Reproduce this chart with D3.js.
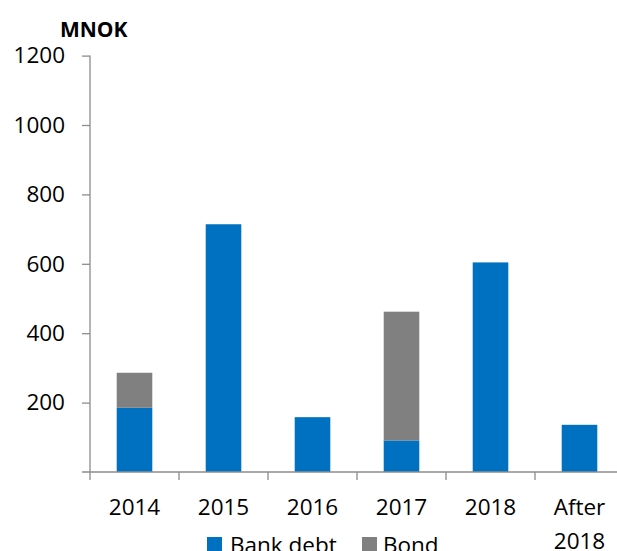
<!DOCTYPE html>
<html><head><meta charset="utf-8">
<script src="https://cdn.jsdelivr.net/npm/d3@7"></script>
<style>body{margin:0;background:#fff}svg{display:block}</style>
</head><body>
<script>
const categories = ["2014","2015","2016","2017","2018","After 2018"];
const bankDebt = [185, 714, 158, 91, 604, 136];
const bond = [101, 0, 0, 371, 0, 0];
const seriesNames = ["Bank debt","Bond"];
const seriesColors = ["#0070C0","#808080"];
const yTicks = [200,400,600,800,1000,1200];

const W=617,H=551;
const svg=d3.select("body").append("svg").attr("width",W).attr("height",H);
const font="'Open Sans', sans-serif";
const x=d3.scaleBand().domain(categories).range([90,624]).paddingInner(0.6).paddingOuter(0.3);
const xTick=d3.scaleBand().domain(categories).range([90,624]);
const y=d3.scaleLinear().domain([0,1200]).range([472,55.6]);
const axisCol="#8c8c8c";

const data=categories.map((c,i)=>({cat:c,"Bank debt":bankDebt[i],"Bond":bond[i]}));
const stack=d3.stack().keys(seriesNames)(data);
svg.append("g").selectAll("g").data(stack).join("g").attr("fill",(d,i)=>seriesColors[i])
 .selectAll("rect").data(d=>d.filter(e=>e[1]>e[0])).join("rect")
 .attr("x",d=>x(d.data.cat)).attr("width",x.bandwidth())
 .attr("y",d=>y(d[1])).attr("height",d=>y(d[0])-y(d[1]));

// y axis
const gy=svg.append("g").attr("transform","translate(90,0)")
 .call(d3.axisLeft(y).tickValues(yTicks).tickSize(8).tickSizeOuter(0).tickPadding(17).tickFormat(d3.format("d")));
gy.select(".domain").attr("stroke",axisCol).attr("stroke-width",1.3).attr("d","M0,55.6V472");
gy.selectAll(".tick line").attr("stroke",axisCol).attr("stroke-width",1.3);
gy.selectAll("text").attr("font-family",font).attr("font-size",22.5).attr("fill","#000");

// x axis
const gx=svg.append("g").attr("transform","translate(0,472)");
gx.append("line").attr("x1",82).attr("x2",624).attr("stroke",axisCol).attr("stroke-width",1.3);
const bounds=categories.map(c=>xTick(c)).concat([xTick(categories[categories.length-1])+xTick.bandwidth()]);
gx.selectAll(".xt").data(bounds).join("line").attr("x1",d=>d).attr("x2",d=>d).attr("y1",0).attr("y2",8)
 .attr("stroke",axisCol).attr("stroke-width",1.3);
gx.selectAll(".xl").data(categories).join("text")
 .attr("font-family",font).attr("font-size",22.5).attr("text-anchor","middle").attr("fill","#000")
 .each(function(d){
   const t=d3.select(this); const cx=xTick(d)+xTick.bandwidth()/2;
   const parts=d.split(" ");
   parts.forEach((p,i)=>t.append("tspan").attr("x",cx).attr("y",43+i*34).text(p));
 });

// title
svg.append("text").attr("x",60).attr("y",37).attr("font-family",font).attr("font-weight","bold")
 .attr("font-size",21).attr("fill","#000").text("MNOK");

// legend
const leg=[{x:207,tx:230},{x:362,tx:383}];
seriesNames.forEach((n,i)=>{
  svg.append("rect").attr("x",leg[i].x).attr("y",537).attr("width",15).attr("height",15).attr("fill",seriesColors[i]);
  svg.append("text").attr("x",leg[i].tx).attr("y",553).attr("font-family",font).attr("font-size",22.5).attr("fill","#000").text(n);
});
</script>
</body></html>
